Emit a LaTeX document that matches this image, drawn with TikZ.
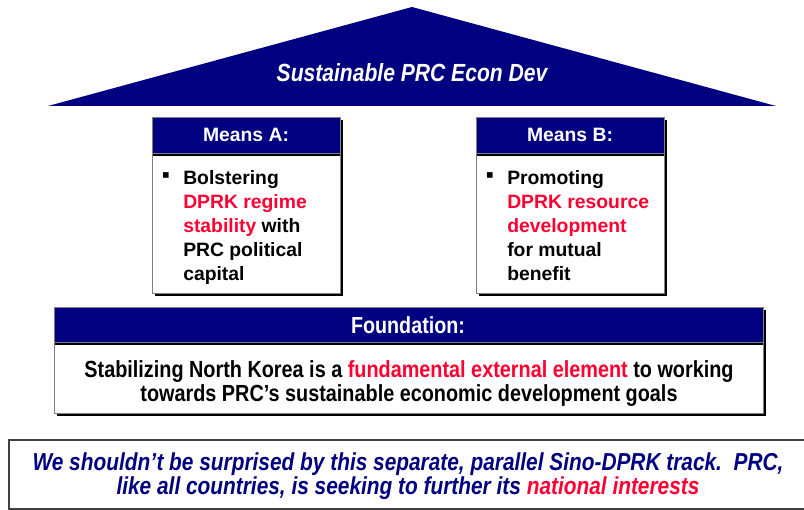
\documentclass[tikz,border=0pt]{standalone}
\usepackage{fontspec}
\setmainfont{Liberation Sans}
\newfontfamily\narrowsans[FakeStretch=0.85]{Liberation Sans}
\usetikzlibrary{positioning}

\definecolor{navyblue}{RGB}{0,0,128}
\definecolor{keyred}{RGB}{255,0,51}

\newcommand{\hl}[1]{\textcolor{keyred}{#1}}

\tikzset{
  headtext/.style={text=white, font=\fontsize{14.5}{18}\selectfont\bfseries},
  bodytext/.style={font=\fontsize{14.5}{18}\selectfont\bfseries, align=left, anchor=north west},
  bulletmark/.style={font=\fontsize{17}{17}\selectfont},
  narrowtext/.style={font=\narrowsans\fontsize{17.5}{18}\selectfont\bfseries, align=center},
  rooftext/.style={text=white, font=\narrowsans\fontsize{18.6}{20}\selectfont\bfseries\itshape},
  notetext/.style={text=navyblue, font=\narrowsans\fontsize{18.4}{17.5}\selectfont\bfseries\itshape, align=center}
}

\begin{document}
\begin{tikzpicture}[x=0.75pt, y=-0.75pt, every node/.style={inner sep=0pt}]
\useasboundingbox (0,0) rectangle (804,510);

% roof
\fill[navyblue] (48,106) -- (412,7) -- (776,106) -- cycle;
\node[rooftext] (roof) at (412,73) {Sustainable PRC Econ Dev};

% pillars and foundation: shadow, body, header
\foreach \l/\t/\h/\r/\b in {152/117/153/340/293, 476/117/153/664/293, 54/307/342/763/413} {
  \fill[black] (\l+3,\t+3) rectangle (\r+3,\b+3);
  \draw[gray, fill=white] (\l,\t) rectangle (\r,\b);
  \fill[black] (\l+1,\h) rectangle (\r,\h+3);
  \draw[gray, fill=navyblue] (\l,\t) rectangle (\r,\h);
}

\node[headtext] (meansA) at (246,135) {Means A:};
\node[headtext] (meansB) at (570,135) {Means B:};
\node[headtext, font=\narrowsans\fontsize{17.4}{18}\selectfont\bfseries] (found) at (408,325) {Foundation:};

% pillar texts
\node[bulletmark] (dotA) at (166,178) {▪};
\node[bodytext] (textA) at (183,170) {Bolstering\\ \hl{DPRK regime}\\ \hl{stability} with\\ PRC political\\ capital};
\node[bulletmark] (dotB) at (490,178) {▪};
\node[bodytext] (textB) at (507,170) {Promoting\\ \hl{DPRK resource}\\ \hl{development}\\ for mutual\\ benefit};

% foundation text
\node[narrowtext] (base) at (409,384) {Stabilizing North Korea is a \hl{fundamental external element} to working\\ towards PRC’s sustainable economic development goals};

% bottom note
\draw[darkgray, line width=1.2pt] (9,440) rectangle (810,509);
\node[notetext] (note) at (408,476) {We shouldn’t be surprised by this separate, parallel Sino-DPRK track.\ \ PRC,\\ like all countries, is seeking to further its \hl{national interests}};

\end{tikzpicture}
\end{document}
